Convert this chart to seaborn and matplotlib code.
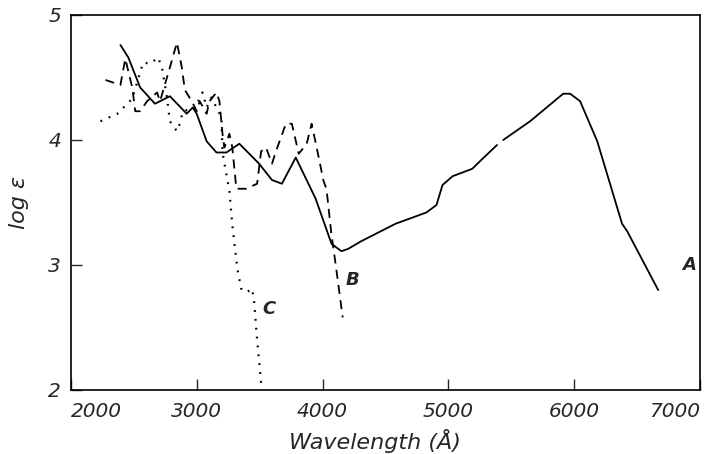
"""Absorption spectra, log eps vs wavelength (curves A, B, C)
"""

import matplotlib.pyplot as plt  # type: ignore
import seaborn as sns  # type: ignore

# curve A (solid), drawn in two pieces because of the small break near 5400 A
a_x1 = [2394, 2457, 2551, 2669, 2787, 2921, 2969, 3000, 3079, 3157, 3236, 3339,
        3496, 3598, 3677, 3787, 3945, 4071, 4150, 4205, 4307, 4580, 4825, 4905,
        4953, 5033, 5190, 5271, 5386]
a_y1 = [4.76, 4.66, 4.42, 4.29, 4.35, 4.21, 4.26, 4.21, 3.99, 3.90, 3.90, 3.97,
        3.81, 3.68, 3.65, 3.86, 3.53, 3.17, 3.11, 3.13, 3.19, 3.33, 3.42, 3.48,
        3.64, 3.71, 3.77, 3.85, 3.96]
a_x2 = [5435, 5649, 5911, 5967, 6046, 6182, 6379, 6420, 6666]
a_y2 = [4.00, 4.15, 4.37, 4.37, 4.31, 3.99, 3.33, 3.27, 2.80]

# curve B (dashed)
b_x = [2276, 2394, 2433, 2488, 2512, 2551, 2606, 2685, 2709, 2787, 2843, 2882,
       2906, 2961, 3000, 3024, 3079, 3102, 3157, 3181, 3205, 3220, 3260, 3283,
       3315, 3394, 3480, 3512, 3551, 3598, 3630, 3709, 3756, 3811, 3874, 3913,
       3953, 4008, 4031, 4071, 4102, 4160]
b_y = [4.48, 4.44, 4.65, 4.42, 4.23, 4.23, 4.31, 4.38, 4.31, 4.58, 4.78, 4.58,
       4.40, 4.31, 4.23, 4.31, 4.21, 4.31, 4.38, 4.31, 4.05, 3.94, 4.05, 3.94,
       3.61, 3.61, 3.65, 3.91, 3.94, 3.81, 3.91, 4.13, 4.13, 3.89, 3.97, 4.13,
       3.94, 3.67, 3.61, 3.24, 3.02, 2.58]

# curve C (dotted)
c_x = [2236, 2370, 2488, 2575, 2630, 2693, 2724, 2764, 2787, 2843, 2866, 2890,
       3000, 3024, 3047, 3079, 3118, 3142, 3197, 3205, 3260, 3283, 3323, 3354,
       3394, 3441, 3457, 3480, 3512, 3520]
c_y = [4.15, 4.21, 4.33, 4.62, 4.61, 4.66, 4.58, 4.34, 4.15, 4.07, 4.13, 4.23,
       4.26, 4.35, 4.38, 4.26, 4.34, 4.29, 4.18, 3.90, 3.59, 3.32, 2.97, 2.81,
       2.78, 2.81, 2.70, 2.40, 2.06, 2.00]

x_ticks = [2000, 3000, 4000, 5000, 6000, 7000]
y_ticks = [2, 3, 4, 5]

sns.set_style("ticks")
plt.rcParams["font.family"] = ["DejaVu Sans"]

fig = plt.figure(figsize=(7.08, 4.54), dpi=100)
ax = fig.add_axes([0.100, 0.141, 0.889, 0.826])

sns.lineplot(x=a_x1, y=a_y1, ax=ax, color="black", lw=1.3, sort=False)
sns.lineplot(x=a_x2, y=a_y2, ax=ax, color="black", lw=1.3, sort=False)
sns.lineplot(x=b_x, y=b_y, ax=ax, color="black", lw=1.3, sort=False,
             linestyle=(0, (5, 3.5)))
sns.lineplot(x=c_x, y=c_y, ax=ax, color="black", lw=1.6, sort=False,
             linestyle=(0, (0.8, 3.2)))

ax.set_xlim(2000, 7000)
ax.set_ylim(2, 5)
ax.set_xticks(x_ticks)
ax.set_yticks(y_ticks)
ax.tick_params(direction="in", length=8, width=1, labelsize=14.5)
ax.tick_params(axis="x", pad=9)
ax.tick_params(axis="y", pad=7)
for lab in ax.get_xticklabels() + ax.get_yticklabels():
    lab.set_style("italic")
xlabs = ax.get_xticklabels()
xlabs[0].set_ha("left")
xlabs[-1].set_ha("right")
for sp in ax.spines.values():
    sp.set_linewidth(1.2)
    sp.set_color("black")

ax.set_xlabel("Wavelength (Å)", fontsize=16, style="italic")
ax.xaxis.set_label_coords(0.483, -0.105)
ax.set_ylabel("log ε", fontsize=16, style="italic", labelpad=14)

ax.text(6857, 2.96, "A", fontsize=13, style="italic", fontweight="bold")
ax.text(4186, 2.84, "B", fontsize=13, style="italic", fontweight="bold")
ax.text(3518, 2.61, "C", fontsize=13, style="italic", fontweight="bold")

plt.savefig("out.png", dpi=100)
plt.close()
